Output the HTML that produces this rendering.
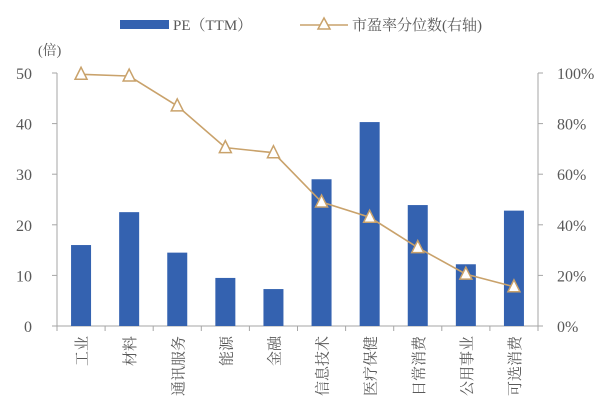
<!DOCTYPE html>
<html><head><meta charset="utf-8"><style>
body{margin:0;background:#fff;}
svg text{font-family:"Liberation Serif","Noto Serif CJK SC",serif;fill:#595959;}
</style></head><body>
<svg id="c" width="603" height="414"></svg>
<script>
const categories=["工业","材料","通讯服务","能源","金融","信息技术","医疗保健","日常消费","公用事业","可选消费"];
const peValues=[16,22.5,14.5,9.5,7.3,29,40.3,23.9,12.2,22.8];
const pctValues=[99.5,98.8,87,70.5,68.5,49,43,31,20.5,15.5];
const leftTicks=[0,10,20,30,40,50];
const rightTicks=[0,20,40,60,80,100];
const svg=document.getElementById('c');
const NS='http://www.w3.org/2000/svg';
function mk(t,a,txt){const e=document.createElementNS(NS,t);for(const k in a)e.setAttribute(k,a[k]);if(txt!=null)e.textContent=txt;svg.appendChild(e);return e;}
const x0=57,x1=538,yb=326,yt=73;
const band=(x1-x0)/categories.length;
const yL=v=>yb-(v/50)*(yb-yt);
const yR=v=>yb-(v/100)*(yb-yt);
const xc=i=>x0+band*(i+0.5);
// axes
let e=mk('line',{x1:x0,y1:yt,x2:x0,y2:yb,stroke:'#a6a6a6'});

e=mk('line',{x1:x1,y1:yt,x2:x1,y2:yb,stroke:'#a6a6a6'});

e=mk('line',{x1:x0-5,y1:yb,x2:x1+5,y2:yb,stroke:'#a6a6a6'});

leftTicks.forEach(v=>{mk('line',{x1:x0-5,y1:yL(v),x2:x0,y2:yL(v),stroke:'#a6a6a6'});
 e=mk('text',{x:32,y:yL(v)+6,'text-anchor':'end','font-size':16},v);
 });
rightTicks.forEach(v=>{mk('line',{x1:x1,y1:yR(v),x2:x1+5,y2:yR(v),stroke:'#a6a6a6'});
 e=mk('text',{x:557,y:yR(v)+6,'font-size':16},v+'%');
 });
for(let i=0;i<=categories.length;i++)mk('line',{x1:x0+band*i,y1:yb,x2:x0+band*i,y2:yb+5,stroke:'#a6a6a6'});
e=mk('text',{x:38,y:55,'font-size':14},'(倍)');

// bars
peValues.forEach((v,i)=>{e=mk('rect',{x:xc(i)-10,y:yL(v),width:20,height:yb-yL(v),fill:'#3462b0'});
 });
// line
e=mk('polyline',{points:pctValues.map((v,i)=>xc(i)+','+yR(v)).join(' '),fill:'none',stroke:'#c9a26b','stroke-width':1.6});

pctValues.forEach((v,i)=>{const x=xc(i),y=yR(v);
 e=mk('polygon',{points:`${x},${y-7} ${x-6},${y+5} ${x+6},${y+5}`,fill:'#fff',stroke:'#c9a26b','stroke-width':1.5});
 });
// category labels
categories.forEach((c,i)=>{e=mk('text',{transform:`translate(${xc(i)+6},336) rotate(-90)`,'text-anchor':'end','font-size':15},c);
 });
// legend
e=mk('rect',{x:120,y:20,width:49,height:9,fill:'#3462b0'});

e=mk('text',{x:173,y:30,'font-size':15},'PE（TTM）');

mk('line',{x1:300,y1:25,x2:348,y2:25,stroke:'#c9a26b','stroke-width':1.6});
e=mk('polygon',{points:'324,18 318,29 330,29',fill:'#fff',stroke:'#c9a26b','stroke-width':1.5});

e=mk('text',{x:352,y:30,'font-size':15},'市盈率分位数(右轴)');

</script>
</body></html>
